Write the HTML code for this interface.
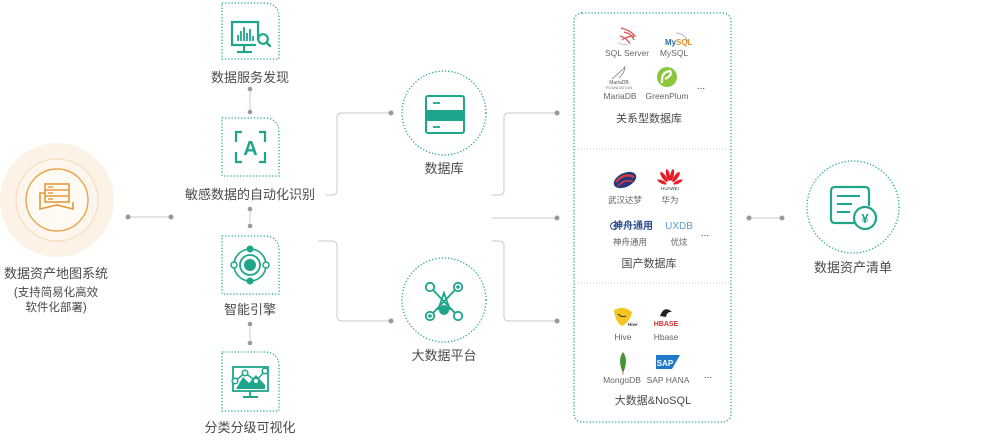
<!DOCTYPE html>
<html><head><meta charset="utf-8"><style>
html,body{margin:0;padding:0;background:#fff;}
svg{display:block;}
text{font-family:"Liberation Sans","Noto Sans CJK SC",sans-serif;}
</style></head><body>
<svg width="1000" height="444" viewBox="0 0 1000 444" xmlns="http://www.w3.org/2000/svg">
<defs>
<style>
.lbl{font-size:13px;fill:#4a4a4a;text-anchor:middle;}
.lbl2{font-size:11.5px;fill:#4a4a4a;text-anchor:middle;}
.sm{font-size:8.5px;fill:#666;text-anchor:middle;}
.cat{font-size:11px;fill:#4a4a4a;text-anchor:middle;}
.conn{fill:none;stroke:#d4d4d4;stroke-width:1.2;}
.dot{fill:#9a9a9a;}
.dbox{fill:#fff;stroke:#1ea58b;stroke-width:1.3;stroke-dasharray:1.2 2;}
.tl{fill:none;stroke:#1ea58b;stroke-width:2.2;}
.tf{fill:#1ea58b;}
</style>
</defs>

<!-- Left orange system -->
<circle cx="57" cy="200" r="57" fill="#fdf2e6"/>
<circle cx="57" cy="200" r="41" fill="#fef6ee" stroke="#f6d9b8" stroke-width="1"/>
<circle cx="57" cy="200" r="31" fill="#fffaf4" stroke="#e9a44c" stroke-width="1.4"/>
<g fill="none" stroke="#e39a3c" stroke-width="1.6">
  <rect x="45" y="184" width="24" height="18"/>
  <line x1="45" y1="190" x2="69" y2="190"/>
  <line x1="45" y1="196" x2="69" y2="196"/>
  <path d="M45 193 H40 V209 L57 205 L73 209 V202"/>
</g>
<g stroke="#e39a3c" stroke-width="1.4">
  <line x1="48" y1="187" x2="53" y2="187"/>
  <line x1="48" y1="193" x2="53" y2="193"/>
  <line x1="48" y1="199" x2="53" y2="199"/>
</g>
<text class="lbl" x="56" y="278">数据资产地图系统</text>
<text class="lbl2" x="56" y="296">(支持简易化高效</text>
<text class="lbl2" x="56" y="311">软件化部署)</text>

<!-- left connector -->
<line class="conn" x1="128" y1="217" x2="171" y2="217"/>
<circle class="dot" cx="128" cy="217" r="2.5"/>
<circle class="dot" cx="171" cy="217" r="2.5"/>

<!-- column boxes -->
<path class="dbox" d="M222 3 H264 Q279 3 279 18 V59 H222 Z"/>
<path class="dbox" d="M222 118 H264 Q279 118 279 133 V176 H222 Z"/>
<path class="dbox" d="M222 236 H264 Q279 236 279 251 V294 H222 Z"/>
<path class="dbox" d="M222 352 H264 Q279 352 279 367 V411 H222 Z"/>

<!-- icon 1 -->
<g>
  <path class="tl" d="M258 40 V22 H232 V45 H256" stroke-width="2"/>
  <line x1="244" y1="45" x2="244" y2="51" stroke="#1ea58b" stroke-width="2"/>
  <line x1="237" y1="52" x2="252" y2="52" stroke="#1ea58b" stroke-width="2.2"/>
  <g stroke="#1ea58b" stroke-width="1.8">
    <line x1="238" y1="41" x2="238" y2="35"/>
    <line x1="241" y1="41" x2="241" y2="31"/>
    <line x1="244" y1="41" x2="244" y2="27"/>
    <line x1="247" y1="41" x2="247" y2="33"/>
    <line x1="250" y1="41" x2="250" y2="29"/>
    <line x1="253" y1="41" x2="253" y2="36"/>
  </g>
  <circle cx="263" cy="39" r="4.8" fill="#fff" stroke="#1ea58b" stroke-width="2.2"/>
  <line x1="266.5" y1="42.5" x2="270" y2="46" stroke="#1ea58b" stroke-width="2.4" stroke-linecap="round"/>
</g>
<text class="lbl" x="250" y="82">数据服务发现</text>

<!-- icon 2 -->
<g class="tl" stroke-width="2">
  <path d="M242 132 H236 V142"/>
  <path d="M259 132 H265 V142"/>
  <path d="M242 162 H236 V152"/>
  <path d="M259 162 H265 V152"/>
</g>
<text x="250.5" y="155" font-size="20" font-weight="bold" fill="#1ea58b" text-anchor="middle" style="font-family:'Liberation Sans',sans-serif">A</text>
<text class="lbl" x="250" y="199">敏感数据的自动化识别</text>

<!-- icon 3 -->
<g>
  <circle cx="250" cy="265" r="16" fill="none" stroke="#1ea58b" stroke-width="1.6"/>
  <circle cx="250" cy="265" r="10" fill="none" stroke="#1ea58b" stroke-width="1.8"/>
  <circle cx="250" cy="265" r="6" class="tf"/>
  <circle cx="250" cy="249" r="3.5" class="tf"/>
  <circle cx="250" cy="281" r="3.5" class="tf"/>
  <circle cx="234" cy="265" r="3" fill="#fff" stroke="#1ea58b" stroke-width="1.5"/>
  <circle cx="266" cy="265" r="3" fill="#fff" stroke="#1ea58b" stroke-width="1.5"/>
</g>
<text class="lbl" x="250" y="314">智能引擎</text>

<!-- icon 4 -->
<g>
  <rect x="233" y="367" width="35" height="24" fill="none" stroke="#1ea58b" stroke-width="1.8"/>
  <path d="M236 389 L243 377 L249 383 L256 375 L265 385 V389 Z" class="tf"/>
  <path d="M235 381 L245 373 L256 381 L265 371" fill="none" stroke="#1ea58b" stroke-width="1.5"/>
  <circle cx="235" cy="381" r="2.8" fill="#fff" stroke="#1ea58b" stroke-width="1.5"/>
  <circle cx="245" cy="373" r="2.8" fill="#fff" stroke="#1ea58b" stroke-width="1.5"/>
  <circle cx="256" cy="381" r="2.8" fill="#fff" stroke="#1ea58b" stroke-width="1.5"/>
  <circle cx="265" cy="371" r="2.8" fill="#fff" stroke="#1ea58b" stroke-width="1.5"/>
  <line x1="250" y1="391" x2="250" y2="396" stroke="#1ea58b" stroke-width="1.8"/>
  <line x1="243" y1="397" x2="258" y2="397" stroke="#1ea58b" stroke-width="2"/>
</g>
<text class="lbl" x="250" y="432">分类分级可视化</text>

<!-- vertical connectors -->
<line class="conn" x1="250" y1="89" x2="250" y2="112"/>
<circle class="dot" cx="250" cy="89" r="2.3"/><circle class="dot" cx="250" cy="112" r="2.3"/>
<line class="conn" x1="250" y1="209" x2="250" y2="226"/>
<circle class="dot" cx="250" cy="209" r="2.3"/><circle class="dot" cx="250" cy="226" r="2.3"/>
<line class="conn" x1="250" y1="324" x2="250" y2="343"/>
<circle class="dot" cx="250" cy="324" r="2.3"/><circle class="dot" cx="250" cy="343" r="2.3"/>

<!-- left-middle connectors -->
<path class="conn" d="M326 195 H332 Q337 195 337 190 V118 Q337 113 342 113 H391"/>
<circle class="dot" cx="391" cy="113" r="2.5"/>
<path class="conn" d="M318 241 H332 Q337 241 337 246 V316 Q337 321 342 321 H391"/>
<circle class="dot" cx="391" cy="321" r="2.5"/>

<!-- middle circles -->
<circle cx="444" cy="113" r="42" class="dbox"/>
<g>
  <rect x="426" y="96" width="38" height="37" rx="2" fill="#fff" stroke="#1ea58b" stroke-width="2"/>
  <rect x="426" y="110" width="38" height="11" class="tf"/>
  <line x1="433" y1="103" x2="440" y2="103" stroke="#1ea58b" stroke-width="1.8"/>
  <line x1="433" y1="127" x2="440" y2="127" stroke="#1ea58b" stroke-width="1.8"/>
</g>
<text class="lbl" x="444" y="173">数据库</text>

<circle cx="444" cy="300" r="42" class="dbox"/>
<g stroke="#1ea58b" stroke-width="1.8" fill="none">
  <line x1="433" y1="290" x2="455" y2="313"/>
  <line x1="455" y1="290" x2="433" y2="313"/>
  <path d="M438 310 L444 293 L450 310"/>
  <circle cx="430" cy="287" r="4.2" fill="#fff"/>
  <circle cx="458" cy="287" r="4.2" fill="#fff"/>
  <circle cx="430" cy="316" r="4.2" fill="#fff"/>
  <circle cx="458" cy="316" r="4.2" fill="#fff"/>
</g>
<circle cx="458" cy="287" r="1.8" class="tf"/>
<circle cx="430" cy="316" r="1.8" class="tf"/>
<circle cx="444" cy="310" r="5" class="tf"/>
<text class="lbl" x="444" y="360">大数据平台</text>

<!-- middle-right connectors -->
<path class="conn" d="M492 195 H499 Q504 195 504 190 V118 Q504 113 509 113 H557"/>
<circle class="dot" cx="557" cy="113" r="2.5"/>
<line class="conn" x1="492" y1="218" x2="557" y2="218"/>
<circle class="dot" cx="557" cy="218" r="2.5"/>
<path class="conn" d="M492 241 H499 Q504 241 504 246 V316 Q504 321 509 321 H557"/>
<circle class="dot" cx="557" cy="321" r="2.5"/>

<!-- right big box -->
<rect x="574" y="13" width="157" height="409" rx="8" class="dbox"/>
<line x1="575" y1="149" x2="730" y2="149" stroke="#c9c9c9" stroke-width="1" stroke-dasharray="1 2"/>
<line x1="575" y1="283" x2="730" y2="283" stroke="#c9c9c9" stroke-width="1" stroke-dasharray="1 2"/>

<!-- section 1 logos -->
<g fill="none" stroke="#d9534f" stroke-width="1.2">
  <path d="M621 28 Q630 30 635 36 Q627 36 622 40"/>
  <path d="M624 32 Q632 34 634 40"/>
  <path d="M620 36 Q627 38 630 44"/>
</g>
<path d="M618 42 Q622 46 628 44" fill="none" stroke="#bbb" stroke-width="0.8"/>
<text class="sm" x="627" y="56">SQL Server</text>
<text x="665" y="45" font-size="8" font-weight="bold" fill="#2a6a9c" style="font-family:'Liberation Sans',sans-serif">My</text>
<text x="676" y="45" font-size="8" font-weight="bold" fill="#e48e2e" style="font-family:'Liberation Sans',sans-serif">SQL</text>
<path d="M676 33 Q684 33 688 42" fill="none" stroke="#999" stroke-width="0.7"/>
<text class="sm" x="674" y="56">MySQL</text>
<path d="M612 79 Q620 72 625 67 Q624 74 619 78" fill="none" stroke="#777" stroke-width="0.8"/>
<text x="619" y="84" font-size="5" fill="#555" text-anchor="middle">MariaDB</text>
<text x="619" y="89" font-size="4" fill="#777" text-anchor="middle">FOUNDATION</text>
<text class="sm" x="620" y="99">MariaDB</text>
<circle cx="667" cy="77" r="10" fill="#8cc63e"/>
<path d="M662 83 Q661 72 670 71 Q673 75 665 79" fill="none" stroke="#fff" stroke-width="2.2"/>
<text class="sm" x="667" y="99">GreenPlum</text>
<text x="701" y="89" font-size="10" fill="#444" text-anchor="middle">...</text>
<text class="cat" x="649" y="122">关系型数据库</text>

<!-- section 2 logos -->
<ellipse cx="625" cy="180" rx="12" ry="7" transform="rotate(-25 625 180)" fill="#243a7a"/>
<path d="M616 182 Q624 172 634 177" fill="none" stroke="#e03a3a" stroke-width="2.2"/>
<path d="M618 186 Q626 178 633 182" fill="none" stroke="#e03a3a" stroke-width="1.5"/>
<text class="sm" x="625" y="203">武汉达梦</text>
<g fill="#e41e26">
  <ellipse cx="664" cy="177" rx="2" ry="6" transform="rotate(-35 664 177)"/>
  <ellipse cx="668" cy="175" rx="1.8" ry="6"  transform="rotate(-12 668 175)"/>
  <ellipse cx="672" cy="175" rx="1.8" ry="6"  transform="rotate(12 672 175)"/>
  <ellipse cx="676" cy="177" rx="2" ry="6" transform="rotate(35 676 177)"/>
  <ellipse cx="662" cy="182" rx="1.6" ry="5" transform="rotate(-65 662 182)"/>
  <ellipse cx="678" cy="182" rx="1.6" ry="5" transform="rotate(65 678 182)"/>
</g>
<text x="670" y="190" font-size="4.5" fill="#333" text-anchor="middle">HUAWEI</text>
<text class="sm" x="670" y="203">华为</text>
<circle cx="614" cy="226" r="3.5" fill="none" stroke="#2a4c8c" stroke-width="1"/>
<text x="633" y="229" font-size="10" font-weight="bold" fill="#2a4c8c" text-anchor="middle">神舟通用</text>
<text class="sm" x="630" y="245">神舟通用</text>
<text x="679" y="229" font-size="10" fill="#5b9bd5" text-anchor="middle" style="font-family:'Liberation Sans',sans-serif">UXDB</text>
<text class="sm" x="679" y="245">优炫</text>
<text x="705" y="236" font-size="10" fill="#444" text-anchor="middle">...</text>
<text class="cat" x="649" y="267">国产数据库</text>

<!-- section 3 logos -->
<path d="M614 310 Q624 305 632 312 Q630 322 622 326 Q615 322 614 310 Z" fill="#f6c521"/>
<path d="M618 314 Q622 318 626 316" fill="none" stroke="#333" stroke-width="1"/>
<text x="628" y="326" font-size="4.5" fill="#333" font-weight="bold">Hive</text>
<text class="sm" x="623" y="340">Hive</text>
<path d="M660 316 Q664 305 672 312 Q667 311 666 317 Z" fill="#222"/>
<text x="666" y="326" font-size="7" font-weight="bold" fill="#d63131" text-anchor="middle" style="font-family:'Liberation Sans',sans-serif">HBASE</text>
<text class="sm" x="666" y="340">Hbase</text>
<path d="M623 352 Q629 360 623 373 Q617 360 623 352 Z" fill="#3f9c3a"/>
<line x1="623" y1="354" x2="623" y2="375" stroke="#7a5a2a" stroke-width="0.6"/>
<text class="sm" x="622" y="383">MongoDB</text>
<path d="M656 355 H680 L672 369 H656 Z" fill="#1f7bc8"/>
<text x="665" y="366" font-size="8" font-weight="bold" fill="#fff" text-anchor="middle" style="font-family:'Liberation Sans',sans-serif">SAP</text>
<text class="sm" x="668" y="383">SAP HANA</text>
<text x="708" y="378" font-size="10" fill="#444" text-anchor="middle">...</text>
<text class="cat" x="653" y="404">大数据&amp;NoSQL</text>

<!-- right connector -->
<line class="conn" x1="749" y1="218" x2="782" y2="218"/>
<circle class="dot" cx="749" cy="218" r="2.5"/>
<circle class="dot" cx="782" cy="218" r="2.5"/>

<!-- right circle -->
<circle cx="853" cy="207" r="46" class="dbox"/>
<g>
  <path d="M858 223 H835 Q831 223 831 219 V191 Q831 187 835 187 H865 Q869 187 869 191 V206" fill="none" stroke="#1ea58b" stroke-width="2.2"/>
  <line x1="837" y1="196" x2="860" y2="196" stroke="#1ea58b" stroke-width="2"/>
  <line x1="837" y1="204" x2="852" y2="204" stroke="#1ea58b" stroke-width="2"/>
  <line x1="837" y1="212" x2="850" y2="212" stroke="#1ea58b" stroke-width="2"/>
  <circle cx="865" cy="218" r="11" fill="#fff" stroke="#1ea58b" stroke-width="2.2"/>
  <text x="865" y="223" font-size="13" font-weight="bold" fill="#1ea58b" text-anchor="middle">¥</text>
</g>
<text class="lbl" x="853" y="272">数据资产清单</text>
</svg>
</body></html>
